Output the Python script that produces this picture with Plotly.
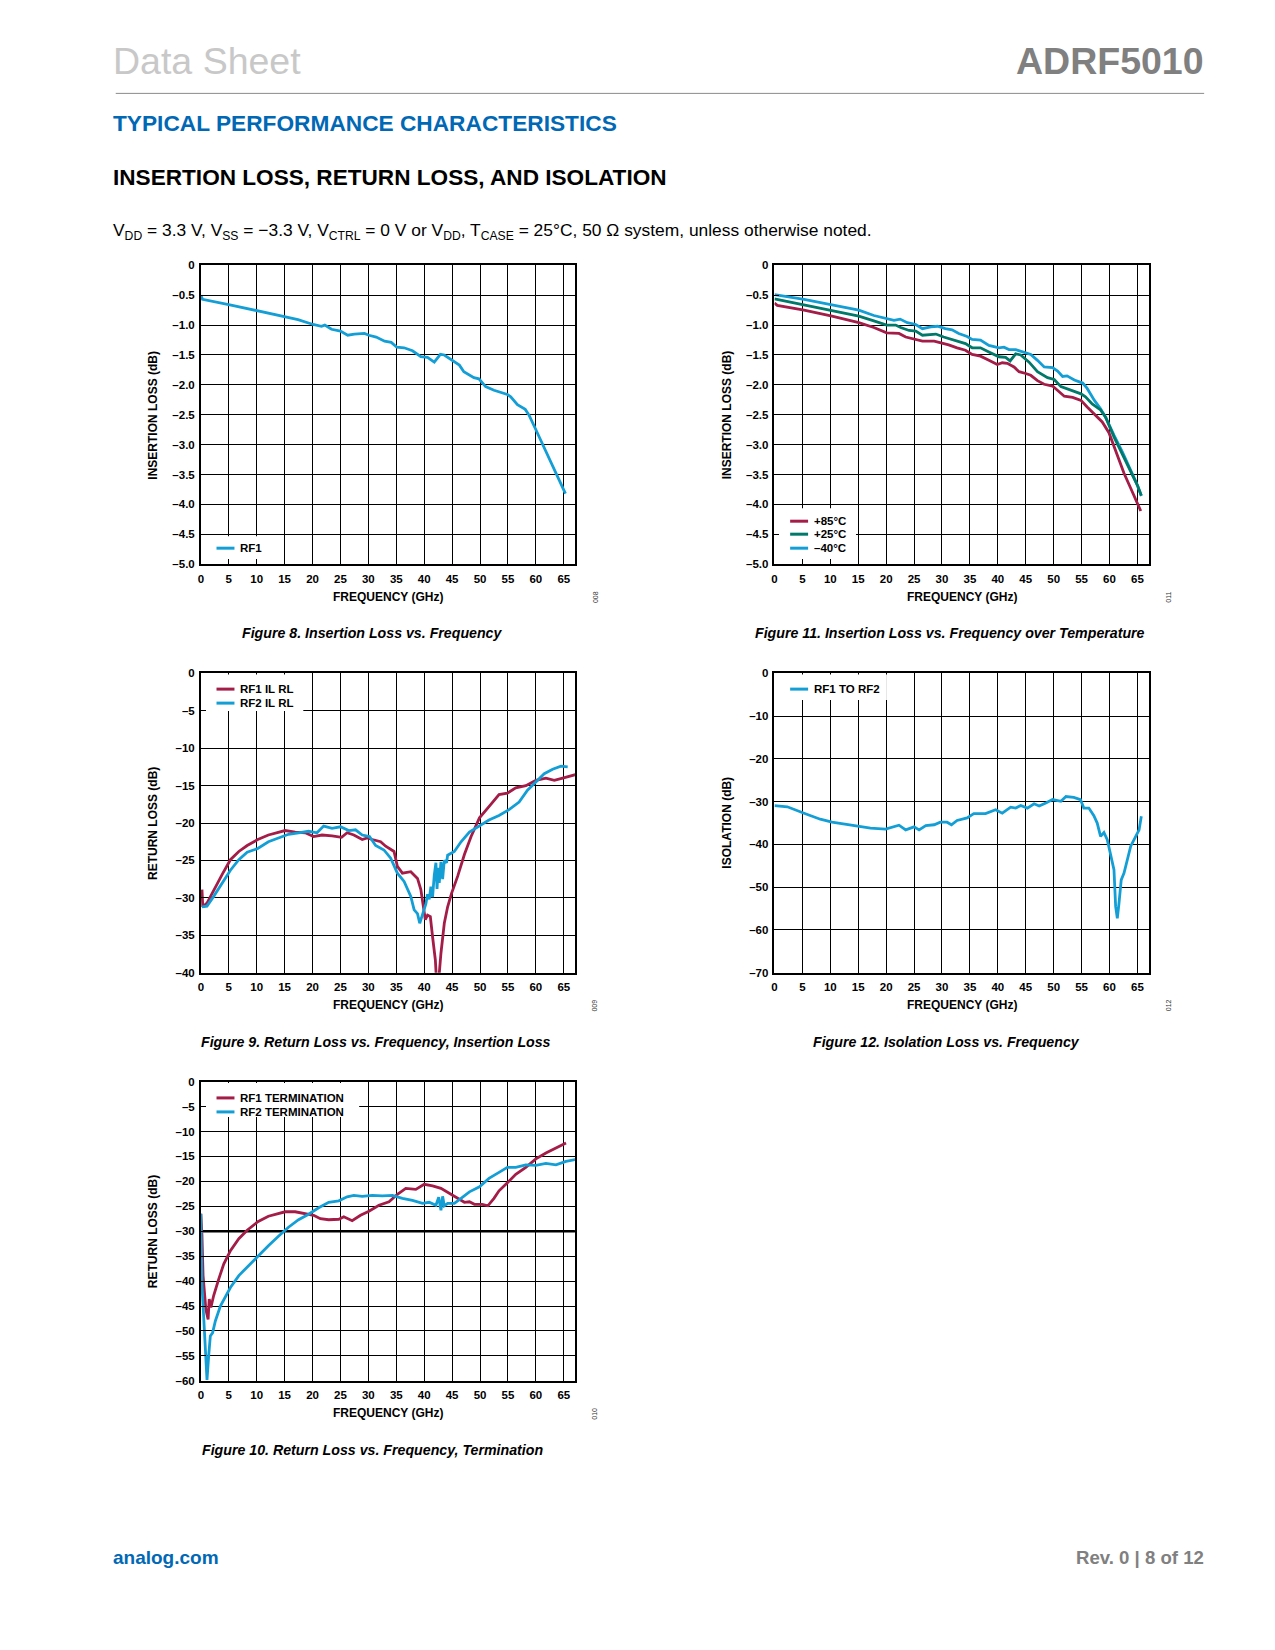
import plotly.graph_objects as go

# ---------------------------------------------------------------
# Data (frequency in GHz, levels in dB)
# ---------------------------------------------------------------
FREQ_TICKS = [0, 5, 10, 15, 20, 25, 30, 35, 40, 45, 50, 55, 60, 65]
FREQ_LABELS = ['0', '5', '10', '15', '20', '25', '30', '35', '40', '45', '50', '55', '60', '65']

IL_TICKS = [0, -0.5, -1.0, -1.5, -2.0, -2.5, -3.0, -3.5, -4.0, -4.5, -5.0]
IL_LABELS = ['0', '–0.5', '–1.0', '–1.5', '–2.0', '–2.5', '–3.0', '–3.5', '–4.0', '–4.5', '–5.0']
RL_TICKS = [0, -5, -10, -15, -20, -25, -30, -35, -40]
RL_LABELS = ['0', '–5', '–10', '–15', '–20', '–25', '–30', '–35', '–40']
ISO_TICKS = [0, -10, -20, -30, -40, -50, -60, -70]
ISO_LABELS = ['0', '–10', '–20', '–30', '–40', '–50', '–60', '–70']
TERM_TICKS = [0, -5, -10, -15, -20, -25, -30, -35, -40, -45, -50, -55, -60]
TERM_LABELS = ['0', '–5', '–10', '–15', '–20', '–25', '–30', '–35', '–40', '–45', '–50', '–55', '–60']

# Figure 8: insertion loss, RF1
F8_FREQ = [0, 0.3, 5.2, 10.1, 15.0, 17.4, 20.1, 21.6, 22.2, 23.4, 25.0, 26.3, 27.5, 29.3, 30.1,
           31.4, 32.9, 34.1, 35.1, 36.4, 37.9, 39.4, 40.6, 41.8, 42.3, 42.9, 43.6, 44.2, 45.1,
           46.3, 47.1, 48.9, 49.8, 51.0, 52.5, 53.7, 54.9, 55.5, 56.7, 58.1, 58.8, 59.9, 61.4,
           62.6, 63.8, 65.3]
F8_RF1 = [-0.50, -0.57, -0.66, -0.76, -0.85, -0.91, -0.99, -1.02, -1.00, -1.07, -1.10, -1.17,
          -1.15, -1.14, -1.17, -1.20, -1.27, -1.29, -1.37, -1.38, -1.43, -1.53, -1.54, -1.62,
          -1.56, -1.49, -1.50, -1.54, -1.59, -1.67, -1.78, -1.88, -1.90, -2.03, -2.09, -2.13,
          -2.16, -2.20, -2.33, -2.41, -2.51, -2.73, -3.04, -3.29, -3.51, -3.82]

# Figure 11: insertion loss over temperature
F11_85_FREQ = [0, 0.5, 5.3, 10.3, 15.1, 17.8, 20.1, 21.4, 22.3, 23.5, 25.0, 26.5, 28.6, 30.0,
               31.2, 32.7, 34.2, 35.4, 36.9, 38.4, 39.9, 40.8, 41.7, 42.9, 43.8, 45.0, 45.9,
               47.1, 48.3, 49.8, 51.0, 51.9, 53.4, 54.9, 56.0, 57.5, 58.7, 59.9, 60.5, 61.4,
               62.6, 63.8, 64.7, 65.6]
F11_85 = [-0.63, -0.67, -0.75, -0.85, -0.96, -1.04, -1.13, -1.14, -1.14, -1.20, -1.23, -1.27,
          -1.27, -1.30, -1.33, -1.38, -1.42, -1.49, -1.52, -1.59, -1.66, -1.63, -1.64, -1.70,
          -1.78, -1.81, -1.84, -1.93, -1.99, -2.02, -2.12, -2.19, -2.21, -2.26, -2.37, -2.51,
          -2.62, -2.80, -2.95, -3.21, -3.48, -3.73, -3.92, -4.11]
F11_25_FREQ = [0, 5.3, 10.3, 15.1, 17.8, 20.1, 21.7, 22.6, 24.1, 25.3, 26.5, 28.9, 30.3, 32.1,
               34.2, 35.4, 36.9, 38.4, 40.2, 41.4, 42.2, 43.2, 44.1, 45.6, 47.1, 48.9, 50.1,
               51.3, 53.1, 54.9, 55.7, 56.9, 58.4, 59.3, 60.8, 62.3, 63.8, 65.0, 65.7]
F11_25 = [-0.56, -0.66, -0.75, -0.85, -0.93, -1.00, -1.00, -1.04, -1.09, -1.10, -1.17, -1.15,
          -1.20, -1.25, -1.31, -1.38, -1.38, -1.45, -1.53, -1.54, -1.60, -1.48, -1.50, -1.62,
          -1.78, -1.88, -1.91, -2.03, -2.09, -2.15, -2.20, -2.32, -2.42, -2.54, -2.87, -3.15,
          -3.44, -3.68, -3.85]
F11_M40_FREQ = [0, 5.3, 10.3, 15.1, 17.8, 20.1, 21.4, 22.5, 23.8, 25.3, 26.5, 28.0, 29.2, 30.6,
                31.8, 33.0, 34.5, 35.4, 36.9, 38.4, 40.2, 41.1, 42.0, 43.2, 44.4, 45.9, 47.1,
                48.3, 49.8, 50.7, 51.6, 52.4, 53.7, 55.2, 56.0, 57.3, 58.4, 59.3, 60.8, 62.3,
                63.8, 65.0, 65.7]
F11_M40 = [-0.49, -0.57, -0.66, -0.75, -0.84, -0.89, -0.92, -0.90, -0.96, -0.99, -1.06, -1.03,
           -1.02, -1.06, -1.08, -1.14, -1.19, -1.24, -1.25, -1.34, -1.38, -1.37, -1.41, -1.41,
           -1.45, -1.49, -1.59, -1.70, -1.71, -1.77, -1.86, -1.85, -1.92, -1.97, -2.06, -2.26,
           -2.40, -2.54, -2.84, -3.12, -3.43, -3.68, -3.86]

# Figure 9: return loss, insertion loss state
F9_RF1_FREQ = [0.2, 0.35, 1.1, 2.6, 3.8, 5.3, 6.8, 8.3, 10.2, 12.1, 13.9, 15.1, 16.9, 18.7, 20.2,
               21.7, 23.5, 25.2, 26.2, 27.4, 28.9, 29.8, 30.7, 32.2, 33.1, 34.6, 35.2, 36.1,
               37.6, 38.8, 39.4, 40.2, 40.6, 41.1, 41.5, 42.0, 42.2, 42.6, 43.0, 43.6, 44.2,
               44.9, 46.0, 47.2, 48.4, 49.9, 51.6, 53.4, 54.9, 56.4, 58.2, 60.0, 61.8, 63.3,
               64.8, 66.0, 67.2]
F9_RF1 = [-28.9, -31.2, -30.7, -28.5, -26.9, -24.9, -23.8, -23.0, -22.2, -21.6, -21.2, -21.0,
          -21.2, -21.3, -21.8, -21.6, -21.7, -21.9, -21.3, -21.6, -22.2, -22.0, -22.2, -22.5,
          -23.1, -23.8, -25.8, -26.7, -26.5, -27.4, -28.9, -32.9, -32.3, -32.5, -35.2, -38.3,
          -41.0, -41.0, -37.4, -33.4, -31.2, -29.4, -27.1, -24.2, -21.8, -19.3, -17.8, -16.2,
          -16.0, -15.3, -15.0, -14.3, -14.0, -14.3, -14.0, -13.8, -13.5]
F9_RF2_FREQ = [0.2, 1.1, 2.3, 3.8, 5.3, 6.8, 8.3, 10.2, 12.1, 13.9, 15.7, 17.5, 19.3, 20.8, 22.0,
               23.5, 25.0, 26.5, 27.7, 28.9, 30.2, 31.3, 32.8, 34.0, 35.2, 36.4, 37.6, 38.2,
               38.8, 39.2, 39.7, 40.3, 40.6, 40.9, 41.2, 41.5, 41.8, 42.1, 42.3, 42.5, 42.7,
               43.0, 43.3, 43.6, 44.0, 44.2, 45.4, 46.6, 48.1, 49.9, 51.6, 53.4, 55.2, 57.0,
               58.5, 60.0, 61.5, 63.0, 64.5, 65.7]
F9_RF2 = [-31.2, -31.1, -29.8, -28.0, -26.3, -24.9, -23.9, -23.4, -22.5, -22.0, -21.5, -21.3,
          -21.1, -21.3, -20.4, -20.7, -20.5, -21.0, -20.9, -21.6, -21.8, -23.0, -23.6, -24.7,
          -26.7, -27.8, -29.8, -31.6, -32.1, -33.4, -32.1, -30.8, -29.5, -30.2, -28.5, -29.9,
          -27.0, -25.3, -28.8, -26.0, -28.0, -25.2, -27.5, -25.0, -25.3, -24.3, -23.8, -22.5,
          -21.2, -20.4, -19.6, -19.0, -18.2, -17.2, -15.6, -14.5, -13.4, -12.8, -12.4, -12.5]

# Figure 12: isolation RF1 to RF2
F12_FREQ = [0, 2.3, 5.3, 8.2, 10.3, 13.0, 15.1, 17.2, 19.9, 21.4, 22.3, 23.5, 25.0, 25.9, 27.1,
            28.6, 29.7, 30.9, 31.7, 32.7, 34.5, 35.7, 37.8, 39.6, 40.8, 42.3, 43.2, 44.1, 45.3,
            46.5, 47.4, 48.6, 49.8, 51.3, 52.2, 53.6, 54.8, 55.4, 56.3, 57.2, 57.8, 58.4, 59.0,
            59.6, 60.2, 60.8, 61.1, 61.4, 61.7, 62.1, 62.6, 63.2, 63.8, 64.7, 65.3, 65.7]
F12_ISO = [-30.9, -31.2, -32.7, -34.1, -34.8, -35.4, -35.9, -36.2, -36.4, -35.8, -35.5, -36.6,
           -35.9, -36.6, -35.6, -35.4, -34.8, -34.8, -35.4, -34.4, -33.8, -32.8, -32.8, -31.9,
           -32.7, -31.3, -31.5, -30.9, -31.5, -30.5, -31.0, -30.3, -29.5, -29.9, -28.8, -29.0,
           -29.5, -31.5, -31.5, -33.3, -35.0, -38.1, -37.2, -38.9, -42.8, -45.9, -54.5, -57.3,
           -53.8, -48.3, -46.7, -43.2, -40.4, -38.1, -36.6, -33.4]

# Figure 10: return loss, termination state
F10_RF1_FREQ = [0, 0.2, 0.4, 0.7, 0.9, 1.3, 1.5, 1.8, 2.3, 3.2, 4.1, 5.3, 6.8, 8.3, 10.2, 12.1,
                13.9, 15.1, 16.9, 18.7, 20.2, 21.4, 22.9, 24.7, 25.6, 27.1, 28.6, 30.1, 31.9,
                33.7, 35.2, 36.7, 38.5, 40.0, 41.5, 43.0, 44.5, 46.0, 47.2, 48.1, 49.0, 50.4,
                51.4, 52.5, 53.4, 54.9, 56.4, 58.2, 60.0, 61.8, 63.6, 65.4]
F10_RF1 = [-26.5, -30.8, -38.9, -43.6, -45.7, -47.7, -43.6, -45.3, -42.9, -39.6, -36.6, -33.9,
           -31.5, -29.8, -28.1, -27.0, -26.5, -26.1, -26.1, -26.5, -26.8, -27.5, -27.7, -27.6,
           -27.1, -27.9, -26.8, -26.0, -24.8, -24.1, -22.6, -21.4, -21.6, -20.6, -20.9, -21.4,
           -22.4, -23.4, -24.2, -24.1, -24.6, -24.6, -24.9, -23.4, -21.9, -20.3, -18.6, -17.2,
           -15.5, -14.3, -13.3, -12.3]
F10_RF2_FREQ = [0, 0.2, 0.5, 0.8, 1.1, 1.4, 1.7, 2.1, 2.6, 3.5, 4.4, 5.3, 6.8, 8.3, 10.2, 12.1,
                13.9, 15.7, 17.5, 19.3, 21.1, 22.9, 24.7, 26.2, 27.4, 28.9, 30.7, 32.5, 34.3,
                36.1, 37.9, 39.7, 40.9, 42.1, 42.6, 43.0, 43.3, 43.6, 44.2, 45.4, 46.6, 48.1,
                49.9, 51.6, 53.4, 54.9, 56.4, 58.2, 60.0, 61.8, 63.6, 65.4, 67.2]
F10_RF2 = [-26.5, -40.9, -47.0, -53.0, -59.8, -55.0, -51.0, -50.4, -48.0, -45.0, -43.0, -41.3,
           -38.9, -37.2, -34.9, -32.9, -31.0, -29.2, -27.7, -26.6, -25.3, -24.2, -23.9, -23.1,
           -22.8, -23.0, -22.8, -22.9, -22.8, -23.4, -23.8, -24.4, -24.2, -24.8, -23.2, -25.8,
           -23.0, -24.9, -24.4, -24.4, -23.4, -22.1, -21.1, -19.4, -18.2, -17.2, -17.2, -16.7,
           -16.8, -16.4, -16.7, -16.0, -15.6]

BLUE = '#139fd6'
RED = '#a31d48'
TEAL = '#00786a'

# ---------------------------------------------------------------
# Page geometry: the html body adds an 8 px margin round the plot.
# Vertical positions get a small stretch about the middle of the page
# (measured against the reference).
# ---------------------------------------------------------------
OFF = 8
FW, FH = 1259, 1620
X_MAX = 67
VS, YC = 1.007, 810


def fx(px):
    return (px - OFF) / FW


def fy(py):
    py = YC + (py - YC) * VS
    return 1 - (py - OFF) / FH


SANS = 'Liberation Sans, Arial, sans-serif'

fig = go.Figure()
shapes = []
annotations = []


def text(x, y, s, size, color='#000000', weight='normal', style='normal',
         xanchor='left', angle=0, dx=-5):
    if xanchor == 'left':
        x += dx
    elif xanchor == 'right':
        x += 3
    annotations.append(dict(
        x=fx(x), y=fy(y), xref='paper', yref='paper', text=s, showarrow=False,
        xanchor=xanchor, yanchor='middle', textangle=angle,
        font=dict(family=SANS, size=size, color=color, weight=weight, style=style),
    ))


# panels: (left, top, right, bottom) in page pixels
PANELS = [
    dict(box=(198.3, 265.0, 573.3, 564.0), yr=[-5, 0], yt=IL_TICKS, yl=IL_LABELS,
         ytitle='INSERTION LOSS (dB)', code='008', caption='Figure 8. Insertion Loss vs. Frequency',
         cap_x=370),
    dict(box=(773.3, 265.0, 1148.3, 564.0), yr=[-5, 0], yt=IL_TICKS, yl=IL_LABELS,
         ytitle='INSERTION LOSS (dB)', code='011',
         caption='Figure 11. Insertion Loss vs. Frequency over Temperature', cap_x=949),
    dict(box=(198.3, 673.3, 573.3, 972.7), yr=[-40, 0], yt=RL_TICKS, yl=RL_LABELS,
         ytitle='RETURN LOSS (dB)', code='009',
         caption='Figure 9. Return Loss vs. Frequency, Insertion Loss', cap_x=374),
    dict(box=(773.3, 673.3, 1148.3, 972.7), yr=[-70, 0], yt=ISO_TICKS, yl=ISO_LABELS,
         ytitle='ISOLATION (dB)', code='012', caption='Figure 12. Isolation Loss vs. Frequency',
         cap_x=946),
    dict(box=(198.3, 1081.7, 573.3, 1381.0), yr=[-60, 0], yt=TERM_TICKS, yl=TERM_LABELS,
         ytitle='RETURN LOSS (dB)', code='010',
         caption='Figure 10. Return Loss vs. Frequency, Termination', cap_x=370),
]

layout_axes = {}
for i, p in enumerate(PANELS):
    n = '' if i == 0 else str(i + 1)
    l, t, r, b = p['box']
    common = dict(showgrid=True, gridcolor='#000000', gridwidth=1, zeroline=False,
                  showline=True, linecolor='#000000', linewidth=1.6, mirror=True,
                  ticks='inside', ticklen=5, tickwidth=1, tickcolor='#000000',
                  tickfont=dict(family=SANS, size=11.5, color='#000000', weight='bold'))
    layout_axes['xaxis' + n] = dict(common, domain=[fx(l), fx(r)], range=[0, X_MAX],
                                    tickmode='array', tickvals=FREQ_TICKS, ticktext=FREQ_LABELS,
                                    anchor='y' + n, ticklabelstandoff=3)
    layout_axes['yaxis' + n] = dict(common, domain=[fy(b), fy(t)], range=p['yr'],
                                    tickmode='array', tickvals=p['yt'], ticktext=p['yl'],
                                    anchor='x' + n, ticklabelstandoff=2)
    # axis titles, caption, figure code
    text((l + r) / 2, b + 32.5, 'FREQUENCY (GHz)', 12, weight='bold', xanchor='center')
    text(l - 48, (t + b) / 2, p['ytitle'], 12, weight='bold', xanchor='center', angle=-90)
    text(l + 395, b + 33, p['code'], 7, color='#333333', xanchor='center', angle=-90)
    text(p['cap_x'], b + 69, p['caption'], 14.2, weight='bold', style='italic',
         xanchor='center')


def add_curve(idx, xs, ys, color):
    n = '' if idx == 0 else str(idx + 1)
    fig.add_trace(go.Scatter(x=xs, y=ys, mode='lines', xaxis='x' + n, yaxis='y' + n,
                             line=dict(color=color, width=2.8), hoverinfo='skip',
                             showlegend=False))


add_curve(0, F8_FREQ, F8_RF1, BLUE)
add_curve(1, F11_M40_FREQ, F11_M40, BLUE)
add_curve(1, F11_85_FREQ, F11_85, RED)
add_curve(1, F11_25_FREQ, F11_25, TEAL)
add_curve(2, F9_RF1_FREQ, F9_RF1, RED)
add_curve(2, F9_RF2_FREQ, F9_RF2, BLUE)
add_curve(3, F12_FREQ, F12_ISO, BLUE)
add_curve(4, F10_RF1_FREQ, F10_RF1, RED)
add_curve(4, F10_RF2_FREQ, F10_RF2, BLUE)

# heavier -30 dB line in figure 10
shapes.append(dict(type='line', xref='x5', yref='y5', x0=0, x1=X_MAX, y0=-30, y1=-30,
                   line=dict(color='#000000', width=2.4), layer='between'))


def legend(idx, box, entries):
    """white patch over the grid (inside the subplot) plus short line keys"""
    p = PANELS[idx]
    n = '' if idx == 0 else str(idx + 1)
    l, t, r, b = p['box']
    y_lo, y_hi = p['yr']
    x0, y0, x1, y1 = box

    def to_x(px):
        return (px - l) / (r - l) * X_MAX

    def to_y(py):
        return y_lo + (b - py) / (b - t) * (y_hi - y_lo)

    shapes.append(dict(type='rect', xref='x' + n, yref='y' + n,
                       x0=to_x(x0), x1=to_x(x1), y0=to_y(y1), y1=to_y(y0),
                       fillcolor='#ffffff', line=dict(width=0), layer='between'))
    for (lx, ly, label, color) in entries:
        shapes.append(dict(type='line', xref='paper', yref='paper', x0=fx(lx), x1=fx(lx + 18),
                           y0=fy(ly), y1=fy(ly), line=dict(color=color, width=3)))
        text(lx + 24, ly, label, 11.5, weight='bold', dx=-2)


legend(0, (199.5, 536, 265, 563), [(214, 548, 'RF1', BLUE)])
legend(1, (774.5, 508, 855, 563), [(789, 521, '+85°C', RED), (789, 534, '+25°C', TEAL),
                                   (789, 548, '–40°C', BLUE)])
legend(2, (199.5, 674.5, 301, 711), [(214, 689, 'RF1 IL RL', RED),
                                     (214, 703, 'RF2 IL RL', BLUE)])
legend(3, (774.5, 674.5, 886, 700), [(789, 689, 'RF1 TO RF2', BLUE)])
legend(4, (199.5, 1083, 357, 1117), [(214, 1098, 'RF1 TERMINATION', RED),
                                     (214, 1112, 'RF2 TERMINATION', BLUE)])

# page header and footer
text(113, 61, 'Data Sheet', 37.5, color='#c8c8c8')
text(1203, 61, 'ADRF5010', 37.5, color='#808080', weight='bold', xanchor='right')
shapes.append(dict(type='line', xref='paper', yref='paper', x0=fx(113), x1=fx(1204),
                   y0=fy(93), y1=fy(93), line=dict(color='#8a8a8a', width=1)))
text(113, 123, 'TYPICAL PERFORMANCE CHARACTERISTICS', 22.7, color='#0068b5', weight='bold')
text(113, 177, 'INSERTION LOSS, RETURN LOSS, AND ISOLATION', 22.6, weight='bold')
text(113, 231,
     'V<sub>DD</sub> = 3.3 V, V<sub>SS</sub> = −3.3 V, V<sub>CTRL</sub> = 0 V or V<sub>DD</sub>, '
     'T<sub>CASE</sub> = 25°C, 50 Ω system, unless otherwise noted.', 17.4)
text(113, 1558, 'analog.com', 19, color='#0068b5', weight='bold')
text(1203, 1558, 'Rev. 0 | 8 of 12', 18.6, color='#808080', weight='bold', xanchor='right')

fig.update_layout(
    width=FW, height=FH,
    margin=dict(l=0, r=0, t=0, b=0),
    paper_bgcolor='#ffffff', plot_bgcolor='#ffffff',
    showlegend=False,
    font=dict(family=SANS, color='#000000'),
    shapes=shapes, annotations=annotations,
    **layout_axes,
)

fig.write_html("out.html")
